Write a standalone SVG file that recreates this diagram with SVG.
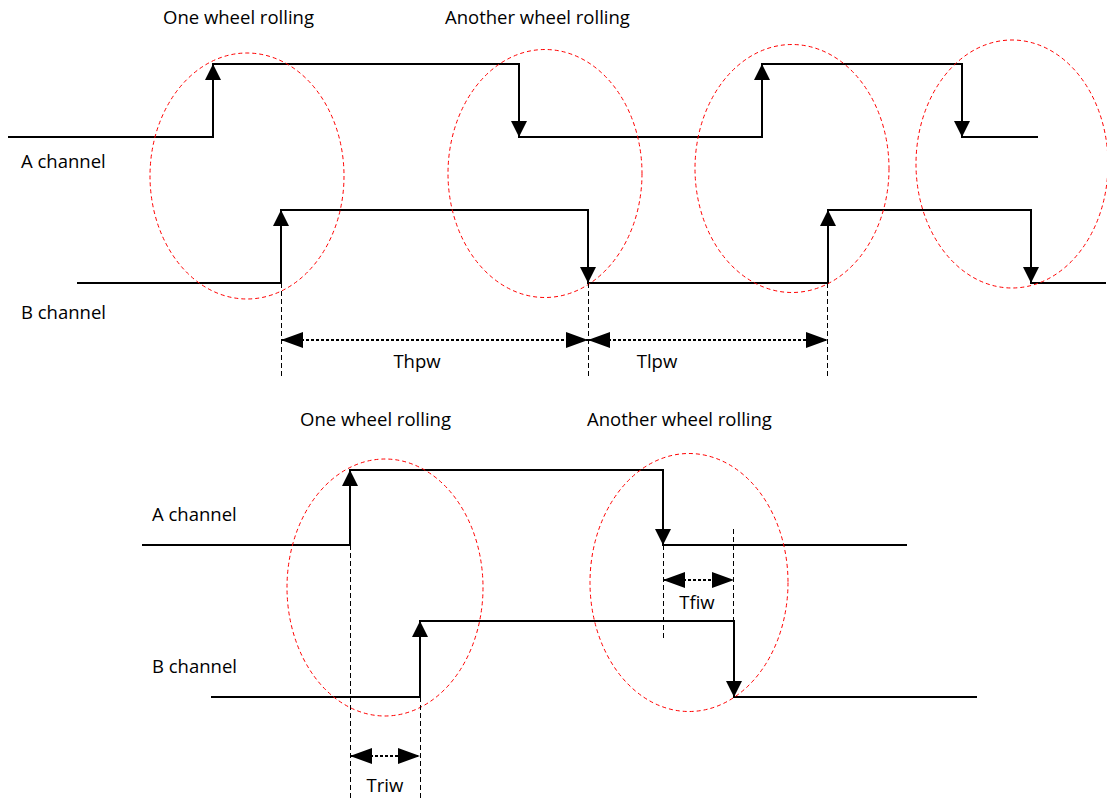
<svg xmlns="http://www.w3.org/2000/svg" width="1107" height="798" viewBox="0 0 1107 798">
<defs>
<marker id="ah" viewBox="0 0 16 16" refX="16" refY="8" markerWidth="16" markerHeight="16" markerUnits="userSpaceOnUse" orient="auto"><path d="M0,0 L16,8 L0,16 z" fill="#000"/></marker>
<marker id="dh" viewBox="0 0 22 16" refX="22" refY="8" markerWidth="22" markerHeight="16" markerUnits="userSpaceOnUse" orient="auto-start-reverse"><path d="M0,0 L22,8 L0,16 z" fill="#000"/></marker>
</defs>
<style>
.sig{fill:none;stroke:#000;stroke-width:2}
.edge{stroke:#000;stroke-width:2;marker-end:url(#ah)}
.ell{fill:none;stroke:#f00;stroke-width:1;stroke-dasharray:4 3}
.ref{stroke:#000;stroke-width:1;stroke-dasharray:5 3}
.dim{stroke:#000;stroke-width:2;stroke-dasharray:3 2;marker-start:url(#dh);marker-end:url(#dh)}
text{font-family:"Open Sans","Liberation Sans",Arial,sans-serif;font-size:18.5px;fill:#000}
</style>
<rect width="1107" height="798" fill="#fff"/>

<g id="top-labels">
<text x="163" y="24">One wheel rolling</text>
<text x="445" y="24">Another wheel rolling</text>
<text x="21" y="168">A channel</text>
<text x="21" y="319">B channel</text>
</g>

<g id="top-a-channel">
<path class="sig" d="M8,137 H213 V64 H519 V137 H762 V64 H962 V137 H1038"/>
<line class="edge" x1="213" y1="137" x2="213" y2="64"/>
<line class="edge" x1="519" y1="64" x2="519" y2="137"/>
<line class="edge" x1="762" y1="137" x2="762" y2="64"/>
<line class="edge" x1="962" y1="64" x2="962" y2="137"/>
</g>

<g id="top-b-channel">
<path class="sig" d="M77,283 H281 V210 H588 V283 H828 V210 H1031 V283 H1106"/>
<line class="edge" x1="281" y1="283" x2="281" y2="210"/>
<line class="edge" x1="588" y1="210" x2="588" y2="283"/>
<line class="edge" x1="828" y1="283" x2="828" y2="210"/>
<line class="edge" x1="1031" y1="210" x2="1031" y2="283"/>
</g>

<g id="top-ellipses">
<ellipse class="ell" cx="247" cy="176" rx="97" ry="123"/>
<ellipse class="ell" cx="545" cy="173.5" rx="97" ry="124"/>
<ellipse class="ell" cx="792" cy="168.5" rx="97" ry="124"/>
<ellipse class="ell" cx="1012" cy="164" rx="96" ry="124"/>
</g>

<g id="top-dimensions">
<line class="ref" x1="281.5" y1="283" x2="281.5" y2="378"/>
<line class="ref" x1="588.5" y1="283" x2="588.5" y2="378"/>
<line class="ref" x1="827.5" y1="283" x2="827.5" y2="378"/>
<line class="dim" x1="281" y1="340" x2="588" y2="340"/>
<line class="dim" x1="588" y1="340" x2="828" y2="340"/>
<text x="417" y="368" text-anchor="middle">Thpw</text>
<text x="657" y="368" text-anchor="middle">Tlpw</text>
</g>

<g id="bottom-labels">
<text x="300" y="426">One wheel rolling</text>
<text x="587" y="426">Another wheel rolling</text>
<text x="152" y="521">A channel</text>
<text x="152" y="673">B channel</text>
</g>

<g id="bottom-a-channel">
<path class="sig" d="M142,545 H350 V470 H663 V545 H907"/>
<line class="edge" x1="350" y1="545" x2="350" y2="470"/>
<line class="edge" x1="663" y1="470" x2="663" y2="545"/>
</g>

<g id="bottom-b-channel">
<path class="sig" d="M211,697 H420 V621 H734 V697 H977"/>
<line class="edge" x1="420" y1="697" x2="420" y2="621"/>
<line class="edge" x1="734" y1="621" x2="734" y2="697"/>
</g>

<g id="bottom-ellipses">
<ellipse class="ell" cx="385" cy="587.5" rx="98" ry="128.5"/>
<ellipse class="ell" cx="689" cy="582.5" rx="99" ry="129"/>
</g>

<g id="bottom-dimensions">
<line class="ref" x1="350.5" y1="545" x2="350.5" y2="798"/>
<line class="ref" x1="420.5" y1="697" x2="420.5" y2="798"/>
<line class="ref" x1="663.5" y1="545" x2="663.5" y2="640"/>
<line class="ref" x1="733.5" y1="529" x2="733.5" y2="621"/>
<line class="dim" x1="350" y1="756" x2="420" y2="756"/>
<line class="dim" x1="663" y1="580" x2="734" y2="580"/>
<text x="385" y="792" text-anchor="middle">Triw</text>
<text x="697" y="609" text-anchor="middle">Tfiw</text>
</g>
</svg>
